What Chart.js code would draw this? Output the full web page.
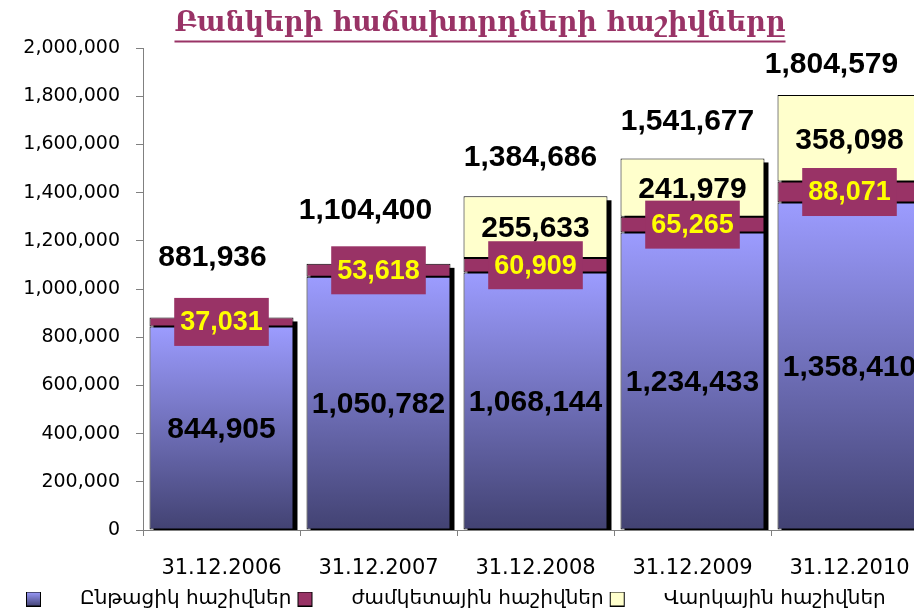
<!DOCTYPE html>
<html><head><meta charset="utf-8">
<script src="https://cdn.jsdelivr.net/npm/chart.js@4"></script>
<style>html,body{margin:0;padding:0;background:#fff;overflow:hidden}
#wrap{width:940px;height:612px;position:relative}</style>
</head><body><div id="wrap"><canvas id="c"></canvas></div>
<script>
const titleText = 'Բանկերի հաճախորդների հաշիվները';
const categories = ['31.12.2006','31.12.2007','31.12.2008','31.12.2009','31.12.2010'];
const seriesNames = ['Ընթացիկ հաշիվներ','ժամկետային հաշիվներ','Վարկային հաշիվներ'];
const demandAccounts = [844905,1050782,1068144,1234433,1358410];
const timeAccounts = [37031,53618,60909,65265,88071];
const savingsAccounts = [null,null,255633,241979,358098];
const totals = [881936,1104400,1384686,1541677,1804579];

// layout-only tweaks for the total labels (manually placed in the original)
const totalLift = [60,53,39,37,30];
const totalShiftX = [-9,-13,-5,-5,-18];

const MAROON = '#993366', CREAM = '#FFFFCC', BLUE_TOP = '#9C9CFF', BLUE_BOT = '#424272';
const fmt = v => Number(v).toLocaleString('en-US');

function blueFill(ctx){
  const chart = ctx.chart;
  if (!chart.chartArea || ctx.type !== 'data') return '#8888ee';
  const ys = chart.scales.y;
  const top = ys.getPixelForValue(ctx.raw), bot = ys.getPixelForValue(0);
  const g = chart.ctx.createLinearGradient(0, top, 0, bot);
  g.addColorStop(0, BLUE_TOP); g.addColorStop(1, BLUE_BOT);
  return g;
}

function swatch(kind){
  const cv = document.createElement('canvas');
  cv.width = 50; cv.height = 15;
  const c = cv.getContext('2d');
  if (kind === 0){ const g = c.createLinearGradient(0,0,0,15); g.addColorStop(0,BLUE_TOP); g.addColorStop(1,BLUE_BOT); c.fillStyle = g; }
  else c.fillStyle = kind === 1 ? MAROON : CREAM;
  c.fillRect(6,0,15,15);
  c.strokeStyle = '#000'; c.lineWidth = 1; c.strokeRect(6.5,0.5,14,14);
  return cv;
}

const shadowPlugin = {
  id:'shadow',
  beforeDatasetsDraw(chart){
    const c = chart.ctx, ca = chart.chartArea;
    c.save(); c.beginPath(); c.rect(ca.left, ca.top, ca.width + 10, ca.height); c.clip();
    c.fillStyle = '#000';
    categories.forEach((_, i) => {
      let top = Infinity, base = -Infinity, x = null, w = 0;
      for (let d = 0; d < 3; d++){
        const el = chart.getDatasetMeta(d).data[i];
        if (!el || isNaN(el.y) || chart.data.datasets[d].data[i] == null) continue;
        top = Math.min(top, el.y); base = Math.max(base, el.base); x = el.x; w = el.width;
      }
      if (x !== null) c.fillRect(x - w/2 + 4, top + 4, w, base - top);
    });
    c.restore();
  }
};

const labelPlugin = {
  id:'labels',
  afterDatasetsDraw(chart){
    const c = chart.ctx;
    const m0 = chart.getDatasetMeta(0), m1 = chart.getDatasetMeta(1), m2 = chart.getDatasetMeta(2);
    c.save(); c.textAlign = 'center'; c.textBaseline = 'middle';
    categories.forEach((_, i) => {
      const e0 = m0.data[i];
      c.font = 'bold 30px "Liberation Sans", Arial, sans-serif';
      c.fillStyle = '#000';
      c.fillText(fmt(demandAccounts[i]), e0.x, (e0.y + e0.base)/2 + 2);
      let topY = m1.data[i].y;
      if (savingsAccounts[i] != null){
        const e2 = m2.data[i];
        c.fillText(fmt(savingsAccounts[i]), e2.x, (e2.y + e2.base)/2 + 2);
        topY = e2.y;
      }
      const e1 = m1.data[i];
      c.font = 'bold 27px "Liberation Sans", Arial, sans-serif';
      const t = fmt(timeAccounts[i]);
      const tw = c.measureText(t).width;
      const cy = (e1.y + e1.base)/2;
      c.fillStyle = MAROON;
      c.fillRect(e1.x - tw/2 - 6, cy - 24, tw + 12, 48);
      c.fillStyle = '#FFFF00';
      c.fillText(t, e1.x, cy + 1);
      c.font = 'bold 30px "Liberation Sans", Arial, sans-serif';
      c.fillStyle = '#000';
      c.fillText(fmt(totals[i]), e0.x + totalShiftX[i], topY - totalLift[i]);
    });
    c.restore();
  }
};

const underlinePlugin = {
  id:'underline',
  afterDraw(chart){
    const tb = chart.titleBlock; if (!tb) return;
    const o = chart.options.plugins.title;
    const c = chart.ctx;
    c.save();
    c.font = 'bold ' + o.font.size + 'px "DejaVu Serif", serif';
    const w = c.measureText(titleText).width;
    const cx = (tb.left + tb.right)/2;
    const cy = tb.top + o.padding.top + o.font.size*1.2/2;
    const uy = Math.round(cy + o.font.size*0.62) + 0.5;
    c.strokeStyle = MAROON; c.lineWidth = 2;
    c.beginPath(); c.moveTo(cx - w/2, uy); c.lineTo(cx + w/2, uy); c.stroke();
    c.restore();
  }
};

new Chart(document.getElementById('c'), {
  type:'bar',
  data:{
    labels: categories,
    datasets:[
      {label: seriesNames[0], data: demandAccounts, backgroundColor: blueFill, borderColor:'#000', borderWidth:1, borderSkipped:false},
      {label: seriesNames[1], data: timeAccounts, backgroundColor: MAROON, borderColor:'#000', borderWidth:1, borderSkipped:false},
      {label: seriesNames[2], data: savingsAccounts, backgroundColor: CREAM, borderColor:'#000', borderWidth:1, borderSkipped:false}
    ]
  },
  options:{
    responsive:true, maintainAspectRatio:false, animation:false,
    layout:{padding:{left:20, right:0, top:0, bottom:0}},
    datasets:{bar:{barPercentage:0.917, categoryPercentage:1}},
    scales:{
      x:{stacked:true, ticks:{color:'#000', font:{family:'DejaVu Sans', size:21}, padding:20},
         grid:{drawOnChartArea:false, tickLength:6, color:'#808080', offset:true}, border:{color:'#808080'},
         afterFit(s){ s.height = 59; }},
      y:{stacked:true, min:0, max:2000000,
         ticks:{stepSize:200000, color:'#000', font:{family:'DejaVu Sans', size:19}, padding:16, callback:v => fmt(v)},
         grid:{drawOnChartArea:false, tickLength:7, color:'#808080'}, border:{color:'#808080'},
         afterFit(s){ s.width = 123; }},
      y2:{position:'right', display:true, ticks:{display:false}, grid:{display:false}, border:{display:false},
         afterFit(s){ s.width = 12; }}
    },
    plugins:{
      tooltip:{enabled:false},
      title:{display:true, text:titleText, color:MAROON, font:{family:'DejaVu Serif', size:27, weight:'bold'}, padding:{top:8, bottom:7.6}},
      legend:{position:'bottom', align:'start', maxHeight:23,
        labels:{usePointStyle:true, pointStyleWidth:50, font:{family:'DejaVu Sans', size:20}, color:'#000', padding:0,
          generateLabels(){ return seriesNames.map((n,i) => ({text:n, pointStyle:swatch(i), fillStyle:'#fff', strokeStyle:'#000', lineWidth:0, hidden:false, datasetIndex:i})); }}}
    }
  },
  plugins:[shadowPlugin, labelPlugin, underlinePlugin]
});
</script></body></html>
